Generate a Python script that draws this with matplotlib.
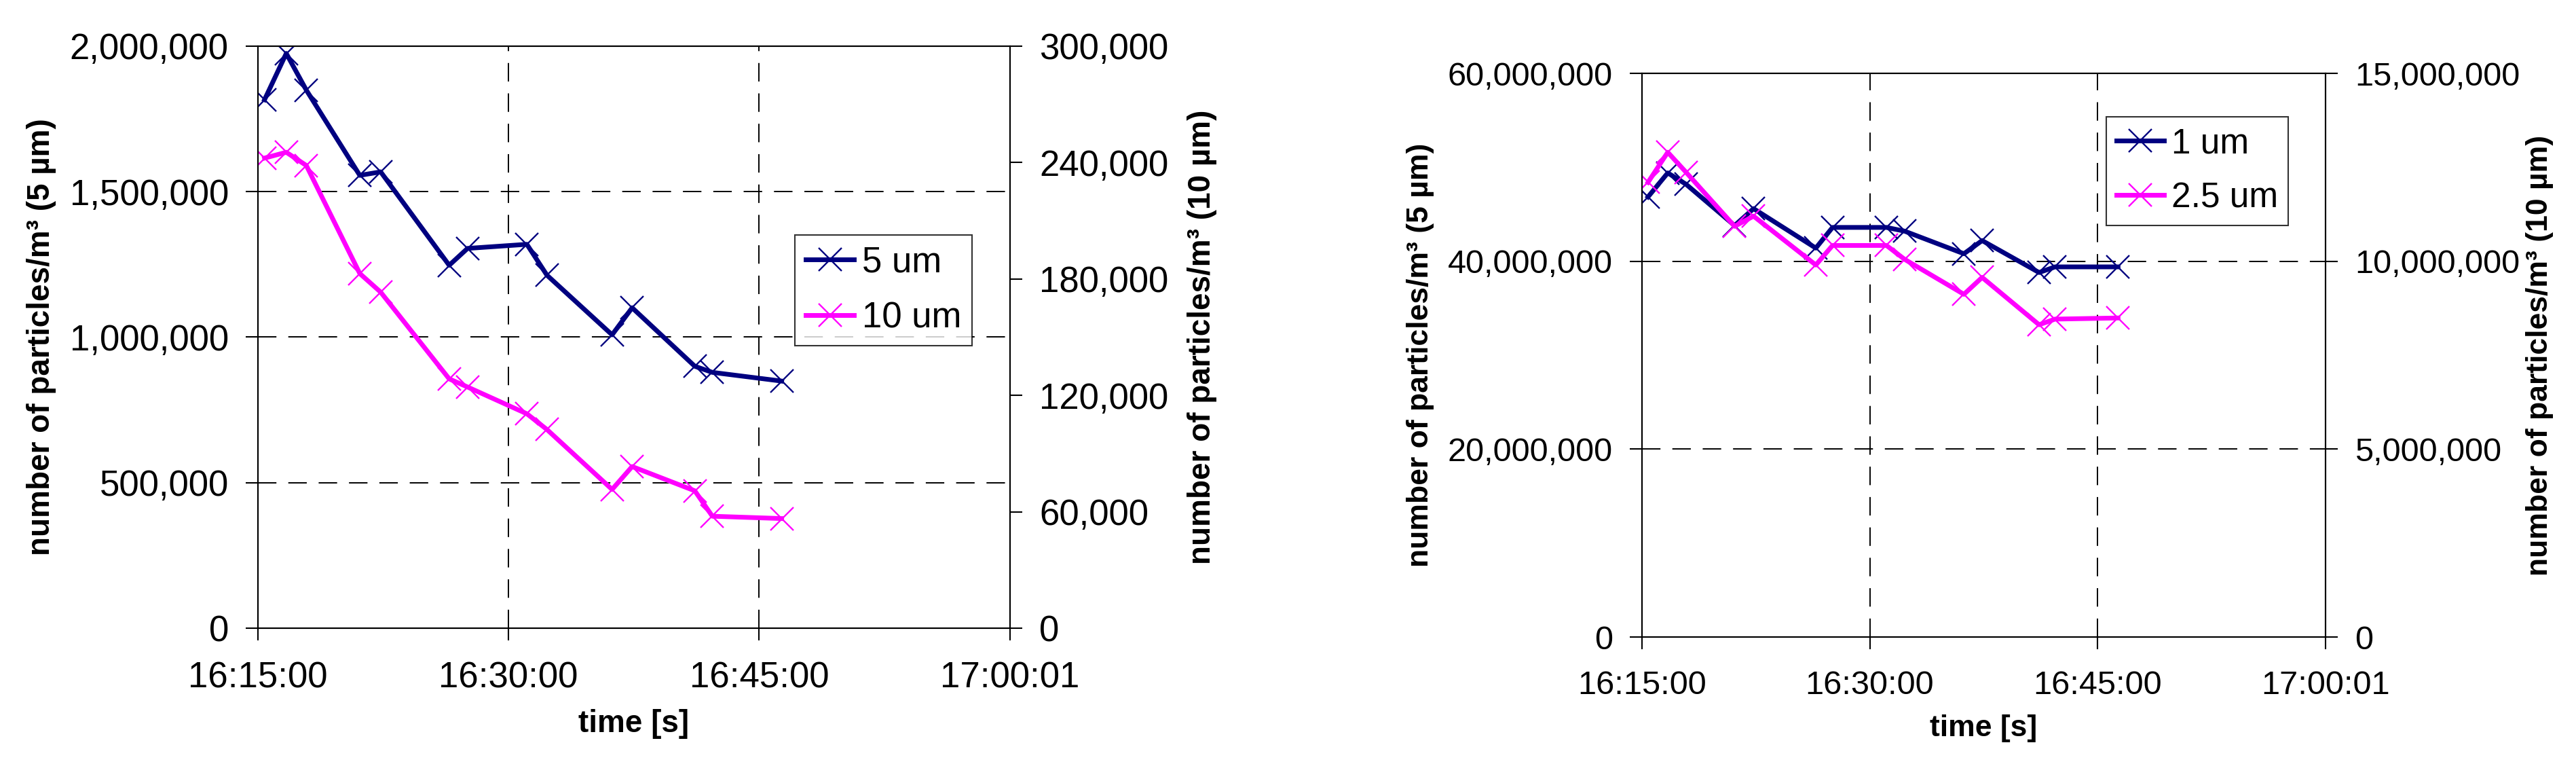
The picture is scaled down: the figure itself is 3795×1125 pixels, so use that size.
import matplotlib
matplotlib.use('Agg')
import matplotlib.pyplot as plt
from matplotlib.ticker import FuncFormatter, FixedLocator

plt.rcParams['font.family'] = ['Liberation Sans', 'DejaVu Sans']

# measurement times (both panels share them)
times = ['16:15:24', '16:16:42', '16:17:54', '16:21:06', '16:22:21', '16:26:27', '16:27:33',
         '16:31:06', '16:32:18', '16:36:12', '16:37:24', '16:41:09', '16:42:12', '16:46:21']
start_time = '16:15:00'
end_time = '17:00:01'
xtick_labels = ['16:15:00', '16:30:00', '16:45:00', '17:00:01']

# left panel, particles/m3
pm5 = [1816000, 1975000, 1849000, 1556000, 1568000, 1247000, 1305000,
       1319000, 1213000, 1008000, 1101000, 900000, 879000, 849000]
pm10 = [242300, 245300, 238500, 182800, 173200, 128500, 124300,
        110500, 102400, 71500, 83300, 70800, 57700, 56500]

# right panel, particles/m3
pm1 = [46850000, 49400000, 48200000, 43800000, 45600000, 41400000, 43600000,
       43600000, 43200000, 40800000, 42200000, 38800000, 39400000, 39400000]
pm25 = [12100000, 12900000, 12370000, 10930000, 11200000, 9900000, 10420000,
        10420000, 10050000, 9120000, 9570000, 8310000, 8460000, 8490000]

NAVY = '#000080'
MAGENTA = '#FF00FF'
GRID_DASH = (0, (14, 9))


def _seconds(t):
    h, m, s = [int(p) for p in t.split(':')]
    return h * 3600 + m * 60 + s


def _minutes(t):
    return (_seconds(t) - _seconds(start_time)) / 60.0


def _fmt(v, pos):
    return f'{v:,.0f}'


def draw_panel(rect, left_vals, right_vals, labels, left_lim, right_lim, left_ticks, right_ticks,
               tick_fs, label_fs, legend_anchor, legend_fs, right_label_pad):
    ax = fig.add_axes(rect)
    ax2 = ax.twinx()
    xs = [_minutes(t) for t in times]
    xticks = [_minutes(t) for t in xtick_labels]

    l1, = ax.plot(xs, left_vals, color=NAVY, lw=5, marker='x', ms=24, mew=1.7)
    l2, = ax2.plot(xs, right_vals, color=MAGENTA, lw=5, marker='x', ms=24, mew=1.7)

    ax.set_xlim(0, _minutes(end_time))
    ax.set_ylim(*left_lim)
    ax2.set_ylim(*right_lim)
    ax.xaxis.set_major_locator(FixedLocator(xticks))
    ax.set_xticklabels(xtick_labels)
    ax.set_yticks(left_ticks)
    ax2.set_yticks(right_ticks)
    ax.yaxis.set_major_formatter(FuncFormatter(_fmt))
    ax2.yaxis.set_major_formatter(FuncFormatter(_fmt))

    ax.grid(True, color='black', lw=1.4, linestyle=GRID_DASH)
    for a in (ax, ax2):
        for s in a.spines.values():
            s.set_linewidth(1.5)
        a.tick_params(axis='both', direction='out', length=13, width=1.5,
                      labelsize=tick_fs, pad=18)
    ax.tick_params(axis='x', pad=22)

    ax.set_xlabel('time [s]', fontsize=label_fs, fontweight='bold', labelpad=15)
    ax.set_ylabel('number of particles/m³ (5 µm)', fontsize=label_fs, fontweight='bold', labelpad=14)
    ax2.set_ylabel('number of particles/m³ (10 µm)', fontsize=label_fs, fontweight='bold',
                   labelpad=right_label_pad)

    leg = ax2.legend([l1, l2], labels, loc='upper left', bbox_to_anchor=legend_anchor,
                     fontsize=legend_fs, frameon=True, fancybox=False, edgecolor='black',
                     handlelength=1.35, handletextpad=0.22, labelspacing=0.6, borderpad=0.3,
                     borderaxespad=0)
    leg.get_frame().set_linewidth(1.5)
    return ax, ax2


fig = plt.figure(figsize=(37.95, 11.25), dpi=100)

draw_panel([0.1001, 0.1778, 0.2920, 0.7618], pm5, pm10, ['5 um', '10 um'],
           (0, 2000000), (0, 300000),
           [0, 500000, 1000000, 1500000, 2000000], [0, 60000, 120000, 180000, 240000, 300000],
           38, 33, (0.714, 0.676), 38, 20)

draw_panel([0.6374, 0.1662, 0.2654, 0.7378], pm1, pm25, ['1 um', '2.5 um'],
           (0, 60000000), (0, 15000000),
           [0, 20000000, 40000000, 60000000], [0, 5000000, 10000000, 15000000],
           35, 32, (0.679, 0.923), 37, 6)

fig.savefig('out.png', dpi=100)
